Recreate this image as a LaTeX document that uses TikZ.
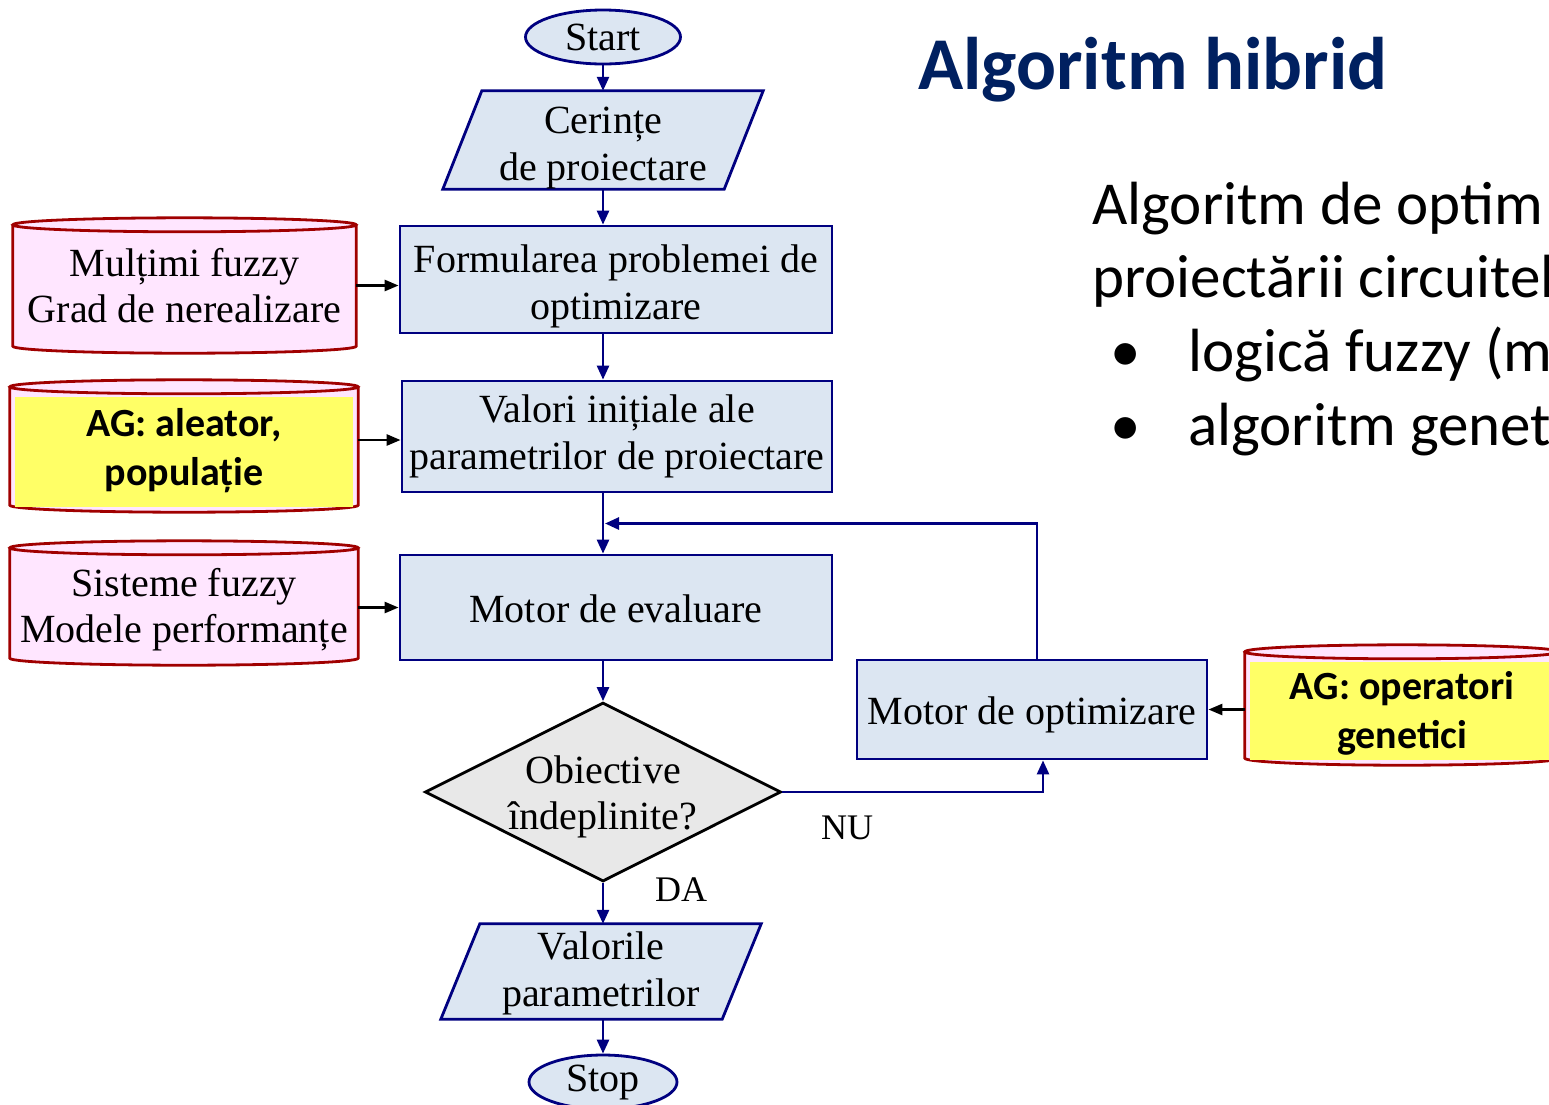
\documentclass[tikz,border=0pt]{standalone}
\usepackage{fontspec}
\setmainfont{Liberation Serif}
\newfontfamily\calfont{Carlito}
\usetikzlibrary{arrows.meta,shapes.geometric,backgrounds,calc}
\definecolor{navy}{RGB}{0,0,128}
\definecolor{boxblue}{RGB}{220,230,242}
\definecolor{cylpink}{RGB}{255,230,255}
\definecolor{cylred}{RGB}{160,0,0}
\definecolor{agyellow}{RGB}{255,255,102}
\definecolor{decgray}{RGB}{232,232,232}
\definecolor{titleblue}{RGB}{0,32,96}
\newcommand\drawcyl[1]{%
  \path[cylstyle] let \p1=(#1.north west), \p2=(#1.south east), \n1={(\x2-\x1)/2} in
    (\x1,\y1-7pt) -- (\x1,\y2+7pt) arc[start angle=180,end angle=360,x radius=\n1,y radius=7pt]
    -- (\x2,\y1-7pt) arc[start angle=0,end angle=180,x radius=\n1,y radius=7pt] -- cycle
    (\x1+\n1,\y1-7pt) ellipse[x radius=\n1,y radius=7pt];}
\newcommand\drawpara[1]{%
  \path[parastyle] (#1.south west) -- ([xshift=-39pt]#1.south east) -- (#1.north east)
    -- ([xshift=39pt]#1.north west) -- cycle;}
\newcommand\up[1]{\rule{0pt}{#1pt}}
\begin{document}
\begin{tikzpicture}[x=1pt,y=-1pt,
  every node/.style={font=\fontsize{40}{46.5}\selectfont, align=center, inner sep=0pt},
  box/.style={rectangle, draw=navy, line width=2.8pt, fill=boxblue},
  term/.style={ellipse, draw=navy, line width=2.8pt, fill=boxblue},
  iobox/.style={rectangle},
  cylbox/.style={rectangle},
  decbox/.style={diamond, draw=black, line width=2.8pt, fill=decgray},
  agtext/.style={font=\calfont\bfseries\fontsize{40}{49}\selectfont},
  parastyle/.style={draw=navy, line width=2.8pt, fill=boxblue},
  cylstyle/.style={draw=cylred, line width=2.8pt, fill=cylpink},
  flow/.style={draw=navy, line width=2.6pt, -{Triangle[length=14pt,width=12pt]}},
  feed/.style={draw=black, line width=2.6pt, -{Triangle[length=14pt,width=11pt]}},
  lbl/.style={font=\fontsize{36}{40}\selectfont}
]
\useasboundingbox (0,0) rectangle (1549,1104);
\clip (0,0) rectangle (1549,1104);

% flowchart column
\node[term, minimum width=155pt, minimum height=54pt] (start) at (603,37) {Start};
\node[iobox, minimum width=320pt, minimum height=96pt] (cer) at (603,140) {\up{43}Cerințe\\de proiectare};
\node[box, minimum width=432pt, minimum height=107pt] (form) at (616,279.5) {\up{41}Formularea problemei de\\optimizare};
\node[box, minimum width=430pt, minimum height=111pt] (val) at (617,436.5) {Valori inițiale ale\\parametrilor de proiectare};
\node[box, minimum width=432pt, minimum height=105pt] (eval) at (616,607.5) {\up{31}Motor de evaluare};
\node[decbox, minimum width=356pt, minimum height=179pt] (dec) at (603,792) {};
\node (dectext) at (603,797) {Obiective\\îndeplinite?};
\node[iobox, minimum width=320pt, minimum height=95pt] (res) at (601,971.5) {\up{31}Valorile\\parametrilor};
\node[term, minimum width=148pt, minimum height=54pt] (stop) at (603,1082) {Stop};
\node[box, minimum width=350pt, minimum height=99pt] (opt) at (1032,709.5) {\up{39}Motor de optimizare};

% cylinders
\node[cylbox, minimum width=343pt, minimum height=135pt] (mult) at (184.5,285.5) {Mulțimi fuzzy\\Grad de nerealizare};
\node[cylbox, agtext, minimum width=348pt, minimum height=132pt] (ag1) at (184,446) {\up{37}AG: aleator,\\populație};
\node[cylbox, minimum width=348pt, minimum height=124pt] (sis) at (184,603) {\up{41}Sisteme fuzzy\\Modele performanțe};
\node[cylbox, agtext, minimum width=314pt, minimum height=120pt] (ag2) at (1402,705) {\up{44}AG: operatori\\genetici};

% labels
\node[lbl] (nu) at (847,828) {NU};
\node[lbl] (da) at (681,890) {DA};

% right text
\node[anchor=base west, font=\calfont\bfseries\fontsize{74.5}{80}\selectfont, text=titleblue] (title) at (918,89) {Algoritm hibrid};
\node[anchor=base west, font=\calfont\fontsize{61}{74}\selectfont] (l1) at (1092,224) {Algoritm de optim};
\node[anchor=base west, font=\calfont\fontsize{61}{74}\selectfont] (l2) at (1092,297) {proiectării circuitel};
\node[anchor=base, font=\calfont\fontsize{61}{74}\selectfont] (b1) at (1126,371) {•};
\node[anchor=base west, font=\calfont\fontsize{61}{74}\selectfont] (l3) at (1188,371) {logică fuzzy (m};
\node[anchor=base, font=\calfont\fontsize{61}{74}\selectfont] (b2) at (1126,445) {•};
\node[anchor=base west, font=\calfont\fontsize{61}{74}\selectfont] (l4) at (1188,445) {algoritm genet};

% connectors
\draw[flow] (start.south) -- (cer.north -| start.south);
\draw[flow] (cer.south) -- (form.north -| cer.south);
\draw[flow] (form.south -| cer.south) -- (val.north -| cer.south);
\draw[flow] (val.south -| cer.south) -- (eval.north -| cer.south);
\draw[flow] (eval.south -| dec.north) -- (dec.north);
\draw[flow] (dec.south) -- (res.north -| dec.south);
\draw[flow] (res.south -| stop.north) -- (stop.north);
\draw[flow] (dec.east) -| ([xshift=11pt]opt.south);
\coordinate (join) at ($(val.south -| cer.south)!0.5!(eval.north -| cer.south)$);
\draw[flow, shorten >=2pt] ([xshift=5pt]opt.north) |- (join);
\draw[feed] (mult.east) -- (mult.east -| form.west);
\draw[feed] (ag1.east |- 0,440) -- (val.west |- 0,440);
\draw[feed] (sis.east |- eval.west) -- (eval.west);
\draw[feed] (ag2.west |- opt.east) -- (opt.east);

\begin{scope}[on background layer]
  \fill[white] (0,0) rectangle (1549,1104);
  \drawpara{cer}
  \drawpara{res}
  \drawcyl{mult}
  \drawcyl{ag1}
  \drawcyl{sis}
  \drawcyl{ag2}
  \fill[agyellow] ([xshift=5pt,yshift=-17pt]ag1.north west) rectangle ([xshift=-5pt,yshift=5pt]ag1.south east);
  \fill[agyellow] ([xshift=5pt,yshift=-17pt]ag2.north west) rectangle ([xshift=-5pt,yshift=5pt]ag2.south east);
\end{scope}
\end{tikzpicture}
\end{document}
